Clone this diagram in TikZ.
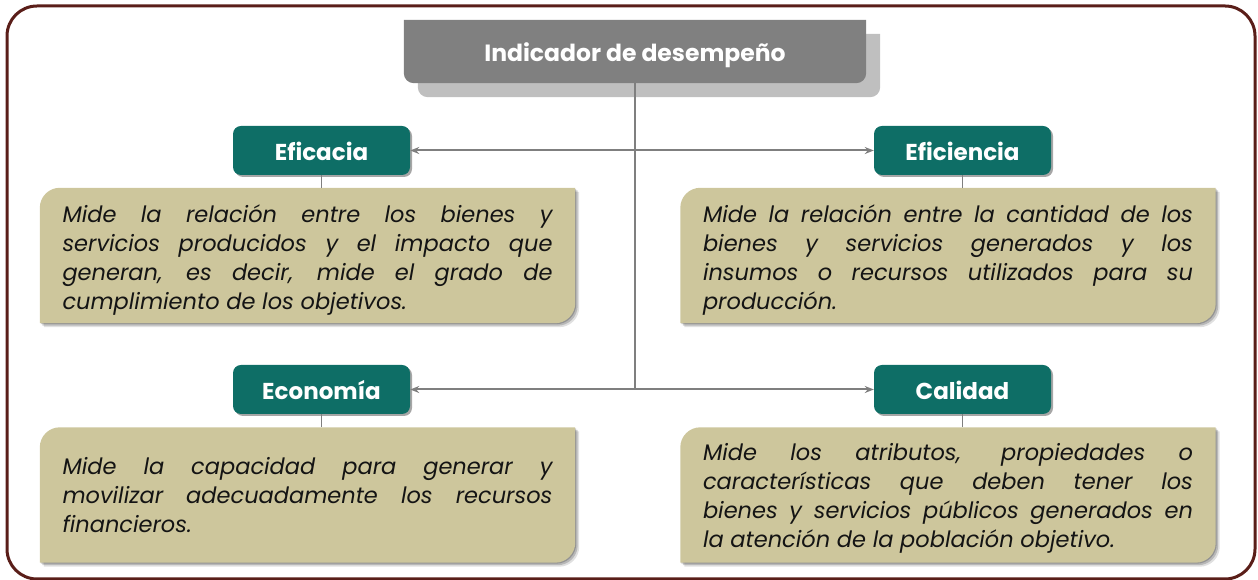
\documentclass[tikz,border=0pt]{standalone}
\usepackage{fontspec}
\setmainfont{Poppins}
\usetikzlibrary{shadows,backgrounds,arrows.meta}
\definecolor{tealc}{HTML}{0E6E66}
\definecolor{tanc}{HTML}{CDC69C}
\definecolor{titlec}{HTML}{808080}
\definecolor{titleshc}{HTML}{BFBFBF}
\definecolor{framec}{HTML}{5A1E19}
\definecolor{linec}{HTML}{7F7F7F}
\definecolor{textc}{HTML}{141414}
% #1 node, #2 fill options, #3 offset
\newcommand\tanshape[3]{%
  \fill[#2] ([shift={#3}]#1.south west) -- ([shift={#3},yshift=-20pt]#1.north west)
    arc[start angle=180,end angle=90,radius=20pt] -- ([shift={#3}]#1.north east)
    -- ([shift={#3},yshift=20pt]#1.south east) arc[start angle=0,end angle=-90,radius=20pt] -- cycle;}
\newcommand\tanbox[1]{%
  \tanshape{#1}{black,opacity=.12}{(4pt,-4pt)}
  \tanshape{#1}{black,opacity=.18}{(2.5pt,-2.5pt)}
  \tanshape{#1}{black,opacity=.2}{(1pt,-1pt)}
  \tanshape{#1}{tanc}{(0pt,0pt)}}
\newcommand\titleshape[3]{%
  \fill[#2] ([shift={#3}]#1.north west) -- ([shift={#3}]#1.north east) -- ([shift={#3},yshift=10pt]#1.south east)
    arc[start angle=0,end angle=-90,radius=10pt] -- ([shift={#3},xshift=10pt]#1.south west)
    arc[start angle=270,end angle=180,radius=10pt] -- cycle;}
\newcommand\lowertext[2]{\raisebox{0pt}[\dimexpr\height+#1\relax][\depth]{#2}}
\newcommand\lowerpar[1]{\par\vspace*{-#1}}
\begin{document}
\begin{tikzpicture}[x=1pt,y=1pt,
  catbox/.style={fill=tealc, rounded corners=8pt, minimum width=177pt, minimum height=49pt,
    text=white, font=\bfseries\fontsize{23}{27}\selectfont, inner sep=0pt,
    drop shadow={shadow xshift=2pt, shadow yshift=-2pt, opacity=0.35, fill=black}},
  descnode/.style={text width=490pt, align=justify, font=\itshape\fontsize{22.5}{29}\selectfont,
    inner xsep=22.5pt, inner ysep=0pt, minimum height=135pt, text=textc},
  titlenode/.style={minimum width=462pt, minimum height=63pt, inner sep=0pt, text=white,
    font=\bfseries\fontsize{23.5}{27}\selectfont},
  conn/.style={draw=linec, line width=2pt},
  thinconn/.style={draw=linec, line width=1pt},
  arr/.style={conn, -{Stealth[length=9pt,width=7pt]}},
]
\useasboundingbox (0,0) rectangle (1258,580);
% frame
\draw[framec, line width=3pt, rounded corners=30pt] (7,1) rectangle (1255,574);

% title
\node[titlenode] (title) at (635,528.5) {\lowertext{7pt}{Indicador de desempeño}};
\begin{scope}[on background layer]
  \titleshape{title}{titleshc}{(14pt,-14pt)}
  \titleshape{title}{titlec}{(0pt,0pt)}
\end{scope}

% categories
\node[catbox] (efa) at (321.5,429.5) {\lowertext{2pt}{Eficacia}};
\node[catbox] (efi) at (962.5,429.5) {\lowertext{2pt}{Eficiencia}};
\node[catbox] (eco) at (321.5,190.5) {\lowertext{2pt}{Economía}};
\node[catbox] (cal) at (962.5,190.5) {\lowertext{2pt}{Calidad}};

% descriptions
\node[descnode] (defa) at (307.5,324.5) {Mide la relación entre los bienes y\linebreak
servicios producidos y el impacto que\linebreak generan, es decir, mide el grado de\linebreak
cumplimiento de los objetivos.\lowerpar{10pt}};
\node[descnode] (defi) at (948,324.5) {Mide la relación entre la cantidad de los\linebreak
bienes y servicios generados y los\linebreak insumos o recursos utilizados para su\linebreak
producción.\lowerpar{10pt}};
\node[descnode] (deco) at (307.5,85) {Mide la capacidad para generar y\linebreak
movilizar adecuadamente los recursos\linebreak financieros.};
\node[descnode] (dcal) at (948,85) {Mide los atributos, propiedades o\linebreak
características que deben tener los\linebreak bienes y servicios públicos generados en\linebreak
la atención de la población objetivo.\lowerpar{6pt}};
\begin{scope}[on background layer]
  \tanbox{defa}\tanbox{defi}\tanbox{deco}\tanbox{dcal}
\end{scope}

% connectors
\coordinate (j1) at (title.south |- efa);
\coordinate (j2) at (title.south |- eco);
\draw[conn] (title.south) -- (j2);
\draw[arr] (j1) -- (efa.east);
\draw[arr] (j1) -- (efi.west);
\draw[arr] (j2) -- (eco.east);
\draw[arr] (j2) -- (cal.west);
\draw[thinconn] (efa.south) -- (efa.south |- defa.north);
\draw[thinconn] (efi.south) -- (efi.south |- defi.north);
\draw[thinconn] (eco.south) -- (eco.south |- deco.north);
\draw[thinconn] (cal.south) -- (cal.south |- dcal.north);
\end{tikzpicture}
\end{document}
